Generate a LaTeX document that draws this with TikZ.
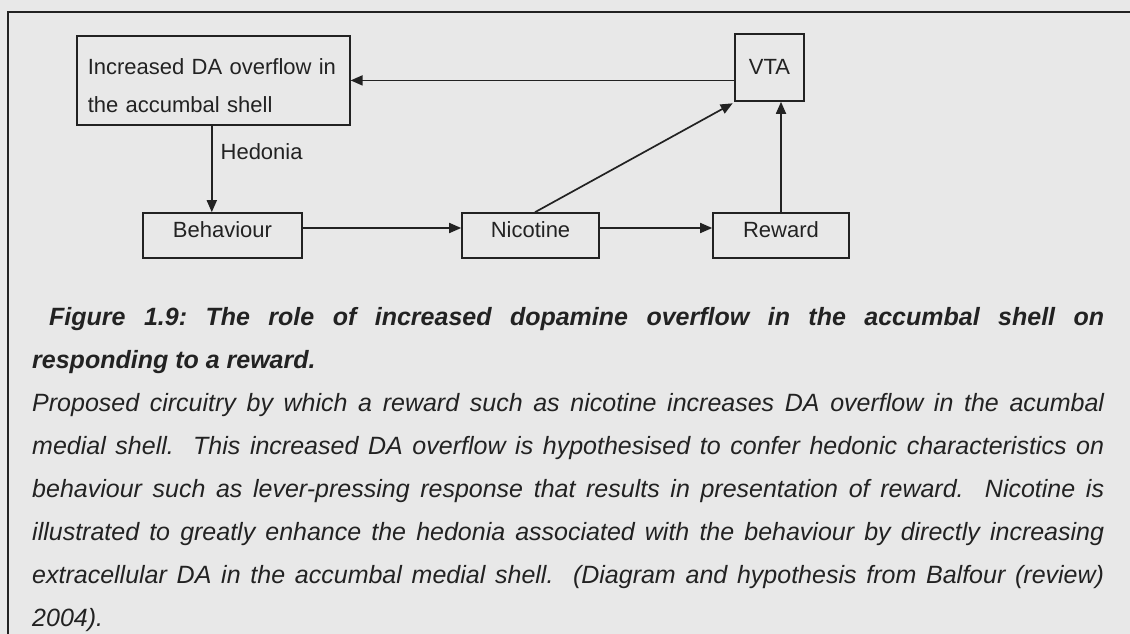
\documentclass[tikz,border=0pt]{standalone}
\usepackage{fontspec}
\setmainfont{Liberation Sans}
\usetikzlibrary{arrows.meta}
\definecolor{bg}{HTML}{E8E8E8}
\definecolor{ink}{HTML}{222222}
\frenchspacing
\begin{document}
\begin{tikzpicture}[x=1pt,y=-1pt,
  box/.style={draw=ink, line width=1.6pt, text=ink, font=\fontsize{22}{26}\selectfont, inner sep=0pt},
  sbox/.style={box, text height=15.75pt, text depth=12.75pt, minimum height=45pt},
  arr/.style={draw=ink, line width=1.7pt, -{Triangle[length=12pt,width=10pt]}},
  lbl/.style={anchor=base west, inner sep=0pt, text=ink, font=\fontsize{22}{26}\selectfont},
  capline/.style={anchor=base west, inner sep=0pt, text=ink, font=\fontsize{25}{29}\selectfont\itshape}]
\fill[bg] (0,0) rectangle (1130,634);
\useasboundingbox (0,0) rectangle (1130,634);
% frame
\draw[ink, line width=1.7pt] (8,640) -- (8,12) -- (1140,12);
% boxes
\node[box, anchor=north west, text width=251pt, inner xsep=11pt, inner ysep=12pt, align=left,
      font=\fontsize{22}{38}\selectfont] (A) at (76,35)
  {\rule{0pt}{27pt}Increased DA overflow in\\the accumbal shell};
\node[sbox, minimum width=159pt] (Beh) at (222.5,235.5) {Behaviour};
\node[sbox, minimum width=137pt] (Nic) at (530.5,235.5) {Nicotine};
\node[sbox, minimum width=136pt] (Rew) at (781,235.5) {Reward};
\node[box, minimum width=69pt, minimum height=67pt, text height=15.75pt, text depth=2pt] (VTA) at (769.5,67.5) {VTA};
% connectors
\draw[arr] (VTA.west |- A.east) -- (A.east);
\draw[arr] ([xshift=-1.5pt]A.south) -- ([xshift=-1.5pt]A.south |- Beh.north)
  node[lbl, pos=0.3, anchor=west, xshift=8pt] (hed) {Hedonia};
\draw[arr] ([yshift=7.5pt]Beh.east) -- ([yshift=7.5pt]Nic.west);
\draw[arr] ([yshift=7.5pt]Nic.east) -- ([yshift=7.5pt]Rew.west);
\draw[arr] (Rew.north) -- (Rew.north |- VTA.south);
\draw[arr] ([xshift=4.5pt]Nic.north) -- ([xshift=-1.5pt,yshift=-1.5pt]VTA.south west);
% caption
\node[capline] (c1) at (49,325) {\makebox[1055pt][s]{\bfseries Figure 1.9: The role of increased dopamine overflow in the accumbal shell on}};
\node[capline] (c2) at (32,368) {\bfseries responding to a reward.};
\node[capline] (c3) at (32,411) {\makebox[1072pt][s]{Proposed circuitry by which a reward such as nicotine increases DA overflow in the acumbal}};
\node[capline] (c4) at (32,454) {\makebox[1072pt][s]{medial shell.\ \ This increased DA overflow is hypothesised to confer hedonic characteristics on}};
\node[capline] (c5) at (32,497) {\makebox[1072pt][s]{behaviour such as lever-pressing response that results in presentation of reward.\ \ Nicotine is}};
\node[capline] (c6) at (32,540) {\makebox[1072pt][s]{illustrated to greatly enhance the hedonia associated with the behaviour by directly increasing}};
\node[capline] (c7) at (32,583) {\makebox[1072pt][s]{extracellular DA in the accumbal medial shell.\ \ (Diagram and hypothesis from Balfour (review)}};
\node[capline] (c8) at (32,626) {2004).};
\end{tikzpicture}
\end{document}
